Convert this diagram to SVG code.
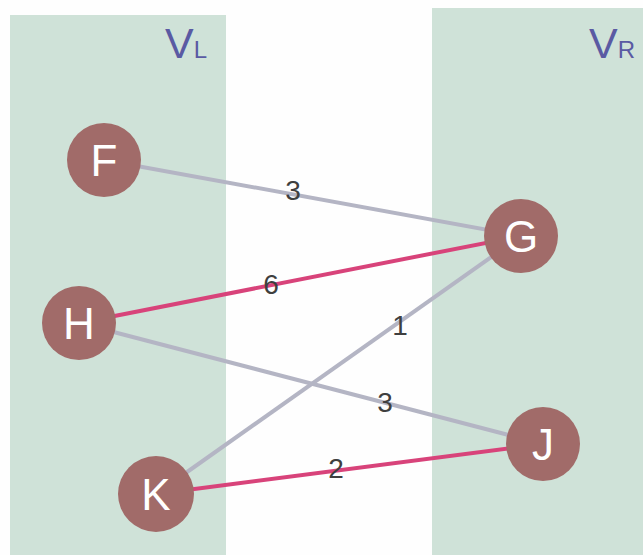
<svg xmlns="http://www.w3.org/2000/svg" width="643" height="555" viewBox="0 0 643 555">
<style>
.panel{fill:#cfe2d8}
.node circle{fill:#a16b69}
.node text{fill:#ffffff;font-family:"Liberation Sans",Arial,sans-serif;font-size:44px;text-anchor:middle;dominant-baseline:central}
.e{stroke-width:4;fill:none}
.gray{stroke:#b4b5c4}
.pink{stroke:#d8437a}
.lbl{fill:#3f3f3f;font-family:"Liberation Sans",Arial,sans-serif;font-size:28px;text-anchor:middle;dominant-baseline:central}
.set{fill:#5a5aa3;font-family:"Liberation Sans",Arial,sans-serif}
</style>
<rect width="643" height="555" fill="#fefefe"/>
<g id="VL"><rect class="panel" x="10" y="15" width="216" height="540"/>
<text class="set" x="165" y="58" font-size="43">V<tspan font-size="24">L</tspan></text></g>
<g id="VR"><rect class="panel" x="432" y="8" width="211" height="547"/>
<text class="set" x="589" y="58" font-size="43">V<tspan font-size="24">R</tspan></text></g>
<g id="connectors">
<line class="e gray" x1="104" y1="160" x2="521" y2="236"/>
<line class="e pink" x1="79" y1="323" x2="521" y2="236"/>
<line class="e gray" x1="156" y1="494" x2="521" y2="236"/>
<line class="e gray" x1="79" y1="323" x2="543" y2="444"/>
<line class="e pink" x1="156" y1="494" x2="543" y2="444"/>
<text class="lbl" x="293" y="190">3</text>
<text class="lbl" x="271" y="284">6</text>
<text class="lbl" x="400" y="325">1</text>
<text class="lbl" x="385" y="402">3</text>
<text class="lbl" x="336" y="468">2</text>
</g>
<g id="F" class="node"><circle cx="104" cy="160" r="37"/><text x="104" y="160">F</text></g>
<g id="G" class="node"><circle cx="521" cy="236" r="37"/><text x="521" y="236">G</text></g>
<g id="H" class="node"><circle cx="79" cy="323" r="37"/><text x="79" y="323">H</text></g>
<g id="K" class="node"><circle cx="156" cy="494" r="38"/><text x="156" y="494">K</text></g>
<g id="J" class="node"><circle cx="543" cy="444" r="37"/><text x="543" y="444">J</text></g>
</svg>
